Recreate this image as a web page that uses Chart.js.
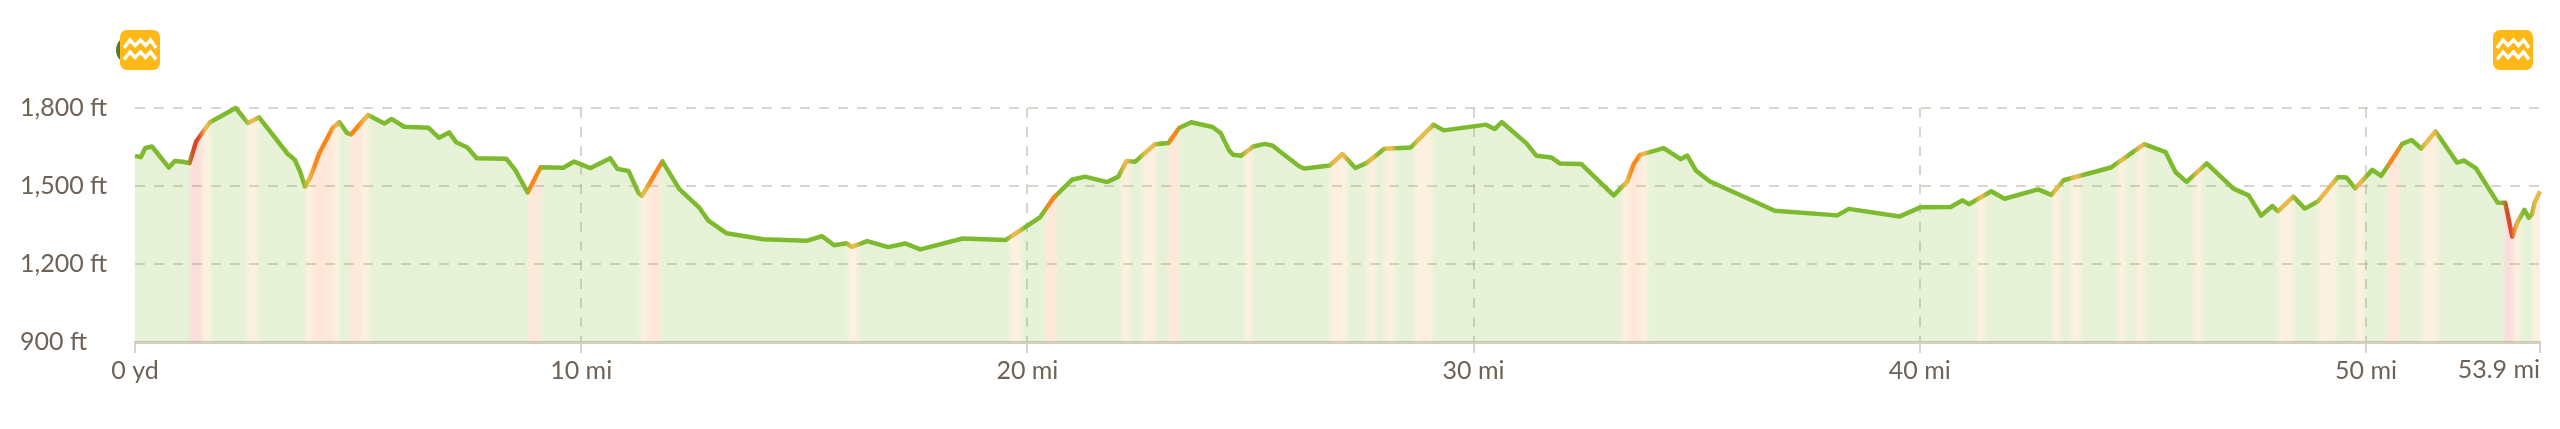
<!DOCTYPE html>
<html>
<head>
<meta charset="utf-8">
<title>Elevation profile</title>
<script src="https://cdn.jsdelivr.net/npm/chart.js@4"></script>
<style>
    html, body { margin: 0; padding: 0; background: #fff; }
    #wrap { position: relative; width: 2560px; height: 429px; overflow: hidden; }
    #elevationChart { display: block; }
    .icon { position: absolute; top: 30px; width: 40px; height: 40px; }
    .badge { position: absolute; left: 114px; top: 30px; width: 30px; height: 40px; }
</style>
</head>
<body>
<div id="wrap">
    <canvas id="elevationChart" width="2560" height="429"></canvas>
    <svg class="badge" viewBox="0 0 30 40"><circle cx="16.5" cy="20" r="14.5" fill="#4f7d2b"></circle></svg>
    <svg class="icon" style="left:120px" viewBox="0 0 40 40"><use href="#waves"></use></svg>
    <svg class="icon" style="left:2493px" viewBox="0 0 40 40"><use href="#waves"></use></svg>
    <svg width="0" height="0" style="position:absolute">
        <symbol id="waves" viewBox="0 0 40 40">
            <rect width="40" height="40" rx="7" fill="#ffb817"></rect>
            <polyline points="4,18 10,10 15,15.5 20.5,10 25.5,15.5 30.5,10 36,18" fill="none" stroke="#fff" stroke-width="3.4"></polyline>
            <polyline points="4,29.5 10,22 15,27.5 20.5,22 25.5,27.5 30.5,22 36,29.5" fill="none" stroke="#fff" stroke-width="3.4"></polyline>
        </symbol>
    </svg>
</div>
<script>
// distance along the route, miles
const miles = [
    0, 0.13, 0.23, 0.38, 0.76, 0.89, 1.07, 1.22, 1.37, 1.68, 2.26, 2.53, 2.78, 3.42, 3.58, 3.70, 3.81, 3.92, 4.13, 4.43,
    4.58, 4.75, 4.84, 5.22, 5.59, 5.75, 6.03, 6.58, 6.81, 7.04, 7.20, 7.45, 7.66, 8.32, 8.52, 8.80, 9.09, 9.60, 9.84, 10.21,
    10.65, 10.81, 11.06, 11.29, 11.36, 11.82, 12.20, 12.64, 12.85, 13.26, 14.08, 15.05, 15.40, 15.67, 15.95, 16.06, 16.41, 16.88, 17.26, 17.60,
    18.55, 19.51, 20.28, 20.58, 21.00, 21.29, 21.79, 22.04, 22.22, 22.41, 22.86, 23.16, 23.40, 23.67, 24.15, 24.33, 24.52, 24.61, 24.79, 25.06,
    25.32, 25.50, 25.66, 26.10, 26.21, 26.78, 27.06, 27.35, 27.60, 28.00, 28.59, 29.10, 29.33, 30.28, 30.47, 30.63, 31.18, 31.41, 31.74, 31.93,
    32.41, 33.14, 33.44, 33.59, 33.73, 34.26, 34.64, 34.79, 34.98, 35.29, 36.75, 38.15, 38.41, 39.55, 40.01, 40.69, 40.96, 41.10, 41.60, 41.90,
    42.65, 42.95, 43.22, 44.28, 45.03, 45.51, 45.73, 45.98, 46.43, 47.03, 47.37, 47.65, 47.90, 48.03, 48.37, 48.63, 48.92, 49.37, 49.56, 49.76,
    50.14, 50.34, 50.52, 50.81, 51.02, 51.24, 51.56, 52.04, 52.20, 52.46, 52.95, 53.12, 53.28, 53.40, 53.55, 53.65, 53.72, 53.78, 53.90
];

// elevation at each distance, feet
const elevation = [
    1616, 1611, 1646, 1652, 1571, 1596, 1593, 1588, 1671, 1745, 1800, 1742, 1764, 1624, 1601, 1556, 1498, 1530, 1626, 1723,
    1746, 1704, 1698, 1773, 1740, 1758, 1728, 1724, 1686, 1706, 1668, 1648, 1607, 1605, 1562, 1475, 1572, 1570, 1594, 1569,
    1607, 1566, 1558, 1472, 1462, 1595, 1488, 1418, 1367, 1318, 1295, 1289, 1307, 1272, 1280, 1266, 1288, 1265, 1279, 1256,
    1298, 1292, 1379, 1453, 1524, 1536, 1515, 1536, 1596, 1593, 1661, 1665, 1723, 1745, 1727, 1704, 1637, 1620, 1616, 1652,
    1662, 1655, 1633, 1575, 1567, 1579, 1623, 1569, 1588, 1643, 1648, 1736, 1714, 1736, 1719, 1746, 1665, 1616, 1610, 1587,
    1585, 1464, 1517, 1585, 1620, 1646, 1603, 1617, 1560, 1518, 1405, 1387, 1412, 1383, 1418, 1419, 1445, 1430, 1480, 1451,
    1487, 1466, 1522, 1571, 1661, 1630, 1554, 1516, 1587, 1490, 1464, 1386, 1423, 1403, 1459, 1413, 1440, 1535, 1533, 1491,
    1562, 1539, 1585, 1662, 1677, 1644, 1710, 1590, 1598, 1569, 1436, 1436, 1305, 1363, 1408, 1378, 1391, 1436, 1480
];

// stretches of the route that are not easy going
const bandStart = [
    1.23, 1.50, 2.51, 3.82, 3.97, 4.43, 4.82, 5.07, 8.82, 11.32, 11.50, 15.98, 19.60, 20.42, 22.11, 22.57, 23.17, 24.86,
    26.78, 27.60, 28.00, 28.68, 33.33, 33.49, 33.73, 41.28, 42.97, 43.39, 44.44, 44.85, 46.15, 48.03, 48.92, 49.76,
    50.48, 51.25, 53.10, 53.31, 53.72
];
const bandEnd = [
    1.50, 1.70, 2.75, 3.97, 4.43, 4.58, 5.07, 5.25, 9.09, 11.50, 11.79, 16.21, 19.87, 20.65, 22.30, 22.89, 23.39, 25.04,
    27.17, 27.81, 28.23, 29.07, 33.49, 33.73, 33.90, 41.46, 43.16, 43.61, 44.62, 45.05, 46.33, 48.37, 49.33, 49.97,
    50.75, 51.60, 53.31, 53.45, 53.90
];
const bandLevel = [
    'hard', 'mid', 'mid', 'mid', 'steep', 'mid', 'steep', 'mid', 'steep', 'mid', 'steep', 'mid', 'mid', 'steep', 'mid', 'mid', 'steep', 'mid',
    'mid', 'mid', 'mid', 'mid', 'mid', 'steep', 'mid', 'mid', 'mid', 'mid', 'mid', 'mid', 'mid', 'mid', 'mid', 'mid',
    'steep', 'mid', 'hard', 'mid', 'mid'
];

const xTickValues = [0, 10, 20, 30, 40, 50, 53.9];
const xTickLabels = ['0 yd', '10 mi', '20 mi', '30 mi', '40 mi', '50 mi', '53.9 mi'];
const yTickValues = [900, 1200, 1500, 1800];
const yTickLabels = ['900 ft', '1,200 ft', '1,500 ft', '1,800 ft'];

const lineColors = { easy: 'rgb(125,186,45)', mid: 'rgb(233,185,73)', steep: 'rgb(255,133,25)', hard: 'rgb(222,70,40)' };
const fillColors = { easy: 'rgba(125,186,45,0.19)', mid: 'rgba(240,180,90,0.19)', steep: 'rgba(255,133,60,0.19)', hard: 'rgba(232,80,70,0.19)' };

const labelFont = { family: 'Lato', size: 25 };
const labelColor = '#6e6257';
const gridColor = 'rgba(180,172,155,0.5)';
const FADE = 0.07;

function gradeGradient(context, colors) {
    const chart = context.chart;
    if (!chart.chartArea) {
        return colors.easy;
    }
    const scale = chart.scales.x;
    const total = xTickValues[xTickValues.length - 1];
    const gradient = chart.ctx.createLinearGradient(scale.left, 0, scale.right, 0);
    const at = mi => Math.min(1, Math.max(0, mi / total));

    gradient.addColorStop(0, colors.easy);
    bandStart.forEach((start, i) => {
        const end = bandEnd[i];
        const color = colors[bandLevel[i]];
        if (i === 0 || start - bandEnd[i - 1] > 0.01) {
            gradient.addColorStop(at(start - FADE), colors.easy);
        }
        gradient.addColorStop(at(start + FADE), color);
        gradient.addColorStop(at(end - FADE), color);
        const next = bandStart[i + 1];
        if (next !== undefined && next - end > 0.01) {
            gradient.addColorStop(at(end + FADE), colors.easy);
        }
    });
    return gradient;
}

// the last distance label sits left of its tick, the library can only do that for all or none
const lastTickLabel = {
    id: 'lastTickLabel',
    afterDraw(chart) {
        const scale = chart.scales.x;
        const ctx = chart.ctx;
        ctx.save();
        ctx.font = labelFont.size + 'px ' + labelFont.family;
        ctx.fillStyle = labelColor;
        ctx.textAlign = 'right';
        ctx.textBaseline = 'middle';
        ctx.fillText(xTickLabels[xTickLabels.length - 1], scale.getPixelForValue(53.9), scale.top + 28);
        ctx.restore();
    }
};

new Chart(document.getElementById('elevationChart'), {
    type: 'line',
    data: {
        datasets: [{
            data: miles.map((mi, i) => ({ x: mi, y: elevation[i] })),
            borderColor: context => gradeGradient(context, lineColors),
            backgroundColor: context => gradeGradient(context, fillColors),
            borderWidth: 4.5,
            borderJoinStyle: 'round',
            pointRadius: 0,
            tension: 0,
            fill: 'start',
            clip: false
        }]
    },
    plugins: [lastTickLabel],
    options: {
        responsive: false,
        animation: false,
        devicePixelRatio: 1,
        layout: { padding: { left: 20, right: 20, top: 108, bottom: 0 } },
        plugins: { legend: { display: false }, tooltip: { enabled: false } },
        scales: {
            x: {
                type: 'linear',
                min: 0,
                max: 53.9,
                afterBuildTicks: scale => { scale.ticks = xTickValues.map(v => ({ value: v })); },
                afterFit: scale => { scale.height = 87; },
                ticks: {
                    autoSkip: false,
                    maxRotation: 0,
                    padding: 3,
                    font: labelFont,
                    color: labelColor,
                    callback: (value, index) => index === xTickLabels.length - 1 ? '' : xTickLabels[index]
                },
                grid: {
                    color: c => (c.tick && (c.tick.value === 0 || c.tick.value === 53.9)) ? 'rgba(0,0,0,0)' : gridColor,
                    lineWidth: 2,
                    tickColor: gridColor,
                    tickWidth: 2,
                    tickLength: 11
                },
                border: { display: true, color: 'rgb(212,207,194)', width: 3, dash: [10, 9] }
            },
            y: {
                min: 900,
                max: 1800,
                afterBuildTicks: scale => { scale.ticks = yTickValues.map(v => ({ value: v })); },
                afterFit: scale => { scale.width = 115; },
                ticks: {
                    crossAlign: 'far',
                    padding: 0,
                    font: labelFont,
                    color: labelColor,
                    callback: (value, index) => yTickLabels[index]
                },
                grid: {
                    color: c => c.tick && c.tick.value === 900 ? 'rgba(0,0,0,0)' : gridColor,
                    lineWidth: 2,
                    drawTicks: false
                },
                border: { display: false, dash: [10, 9] }
            }
        }
    }
});
</script>
</body>
</html>
